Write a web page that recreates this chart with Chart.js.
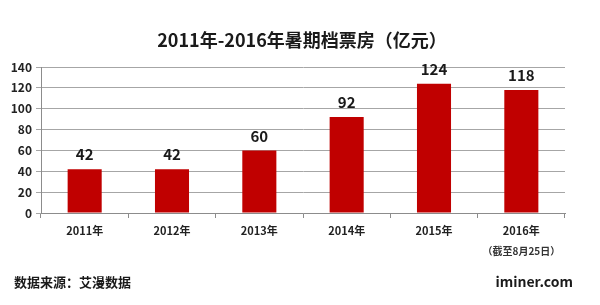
<!DOCTYPE html>
<html>
<head>
<meta charset="utf-8">
<script src="https://cdn.jsdelivr.net/npm/chart.js"></script>
<style>
  body { margin: 0; background: #fff; }
  #wrap { width: 600px; height: 305px; }
</style>
</head>
<body>
<div id="wrap"><canvas id="bar-chart"></canvas></div>
<script>
// chart data
const years = ['2011年', '2012年', '2013年', '2014年', '2015年', '2016年'];
const boxOffice = [42, 42, 60, 92, 124, 118];
const yTicks = [0, 20, 40, 60, 80, 100, 120, 140];
const titleText = '2011年-2016年暑期档票房（亿元）';
const noteText = '（截至8月25日）';
const sourceText = '数据来源：艾漫数据';
const siteText = 'iminer.com';

const FONT = '"Noto Sans CJK SC", "Noto Sans", sans-serif';

const textPlugin = {
  id: 'texts',
  afterDatasetsDraw(chart) {
    const ctx = chart.ctx;
    const meta = chart.getDatasetMeta(0);
    ctx.save();
    ctx.fillStyle = '#1a1a1a';
    ctx.textAlign = 'center';
    ctx.textBaseline = 'bottom';
    ctx.font = 'bold 15px ' + FONT;
    meta.data.forEach((bar, i) => {
      ctx.fillText(boxOffice[i], bar.x, bar.y - 7);
    });

    // title
    ctx.textBaseline = 'middle';
    ctx.font = 'bold 18px ' + FONT;
    ctx.fillText(titleText, 302, 40);

    // note under last label
    const xs = chart.scales.x;
    ctx.font = 'bold 10px ' + FONT;
    ctx.fillStyle = '#333';
    ctx.fillText(noteText, xs.getPixelForValue(5), 251);

    // footer
    ctx.font = 'bold 13px ' + FONT;
    ctx.fillStyle = '#1a1a1a';
    ctx.textAlign = 'left';
    ctx.fillText(sourceText, 14, 282);
    ctx.textAlign = 'right';
    ctx.font = 'bold 14px ' + FONT;
    ctx.fillText(siteText, 573, 282);
    ctx.restore();
  }
};

const ctx = document.getElementById('bar-chart').getContext('2d');
new Chart(ctx, {
  type: 'bar',
  data: {
    labels: years,
    datasets: [{
      data: boxOffice,
      backgroundColor: '#c00000',
      borderWidth: 0,
      barPercentage: 0.39,
      categoryPercentage: 1
    }]
  },
  options: {
    responsive: true,
    maintainAspectRatio: false,
    animation: false,
    layout: { padding: { left: 0, right: 35, top: 67, bottom: 0 } },
    plugins: {
      legend: { display: false },
      title: { display: false },
      tooltip: { enabled: false }
    },
    scales: {
      x: {
        grid: {
          display: true,
          drawOnChartArea: false,
          offset: true,
          color: '#8c8c8c',
          tickLength: 5
        },
        border: { display: true, color: '#8c8c8c' },
        ticks: {
          color: '#222',
          padding: 6,
          maxRotation: 0,
          font: { size: 11, weight: 'bold', family: FONT }
        },
        afterFit(scale) { scale.height = 92; }
      },
      y: {
        min: 0,
        max: 140,
        afterBuildTicks(scale) {
          scale.ticks = yTicks.map(v => ({ value: v }));
        },
        grid: {
          color: '#a6a6a6',
          lineWidth: 1,
          tickLength: 5
        },
        border: { display: true, color: '#8c8c8c' },
        ticks: {
          color: '#222',
          padding: 4,
          font: { size: 12, weight: 'bold', family: FONT }
        },
        afterFit(scale) { scale.width = 41; }
      }
    }
  },
  plugins: [textPlugin]
});
</script>
</body>
</html>
